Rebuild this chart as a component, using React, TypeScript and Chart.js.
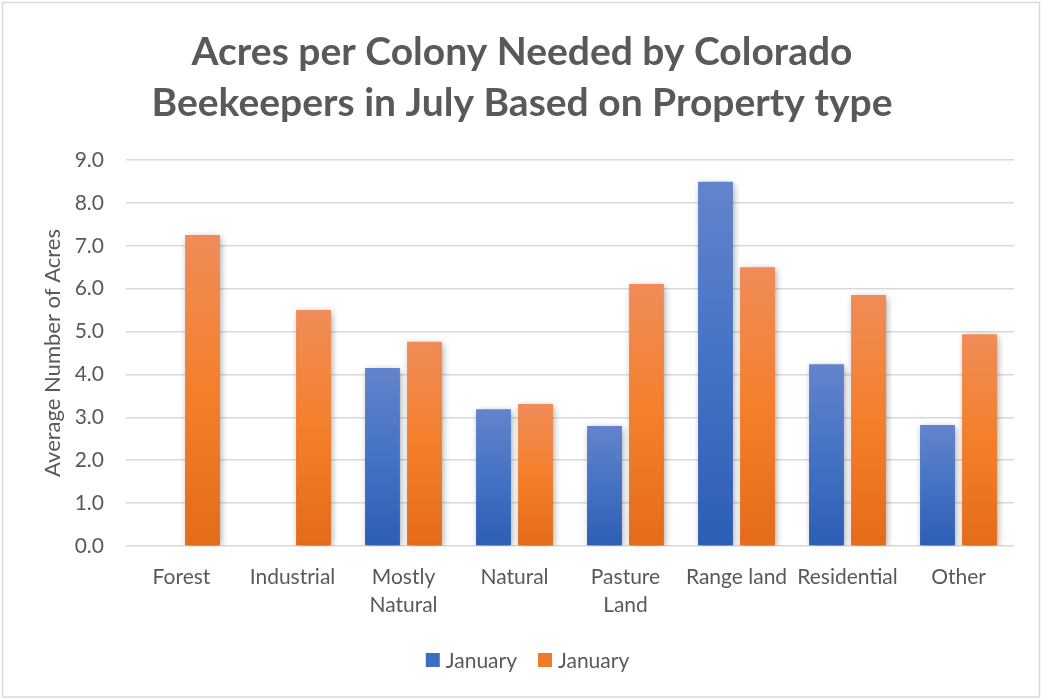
import React, { useEffect, useRef } from "react";
import { Chart, registerables } from "chart.js";

Chart.register(...registerables);

const categories: (string | string[])[] = [
  "Forest",
  "Industrial",
  ["Mostly", "Natural"],
  "Natural",
  ["Pasture", "Land"],
  "Range land",
  "Residential",
  "Other",
];
const seriesBlueLabel = "January";
const seriesOrangeLabel = "January";
const seriesBlue: (number | null)[] = [null, null, 4.15, 3.19, 2.8, 8.49, 4.24, 2.82];
const seriesOrange: number[] = [7.25, 5.5, 4.76, 3.31, 6.11, 6.5, 5.85, 4.94];
const titleLines = ["Acres per Colony Needed by Colorado", "Beekeepers in July Based on Property type"];
const yAxisTitle = "Average Number of Acres";

const FONT = "Lato, 'Open Sans', sans-serif";
const GRAY = "#595959";
const BLUE = "#3d6cc4";
const ORANGE = "#ef7a2c";

function gradientFill(base: string, stops: [string, string, string]) {
  return (ctx: any) => {
    if (ctx.type !== "data") return base;
    const chart = ctx.chart;
    const y = chart.scales?.y;
    if (!chart.chartArea || !y || ctx.raw == null) return base;
    const top = y.getPixelForValue(ctx.raw);
    const bottom = y.getPixelForValue(0);
    if (!isFinite(top) || !isFinite(bottom) || top === bottom) return base;
    const g = chart.ctx.createLinearGradient(0, top, 0, bottom);
    g.addColorStop(0, stops[0]);
    g.addColorStop(0.5, stops[1]);
    g.addColorStop(1, stops[2]);
    return g;
  };
}

const framePlugin = {
  id: "frame",
  beforeDraw(chart: any) {
    const c = chart.ctx;
    c.save();
    c.fillStyle = "#ffffff";
    c.fillRect(0, 0, chart.width, chart.height);
    c.strokeStyle = "#d9d9d9";
    c.lineWidth = 1.5;
    c.strokeRect(2.5, 2.5, chart.width - 5, chart.height - 3.5);
    c.restore();
  },
};

const shadowPlugin = {
  id: "barShadow",
  beforeDatasetsDraw(chart: any) {
    const c = chart.ctx;
    c.save();
    c.shadowColor = "rgba(0,0,0,0.4)";
    c.shadowBlur = 7;
    c.shadowOffsetX = 1.5;
    c.shadowOffsetY = 2;
  },
  afterDatasetsDraw(chart: any) {
    chart.ctx.restore();
  },
};

// Custom legend drawn from the datasets (Excel-like spacing)
const legendPlugin = {
  id: "excelLegend",
  afterDraw(chart: any) {
    const c = chart.ctx;
    const box = 14;
    const gapText = 6;
    const gapItem = 21;
    const cy = 660;
    c.save();
    c.font = `21px ${FONT}`;
    c.textBaseline = "middle";
    c.textAlign = "left";
    const items = chart.data.datasets.map((ds: any, i: number) => ({
      text: ds.label,
      color: i === 0 ? BLUE : ORANGE,
      w: c.measureText(ds.label).width,
    }));
    const total =
      items.reduce((a: number, it: any) => a + box + gapText + it.w, 0) + gapItem * (items.length - 1);
    let x = 527.5 - total / 2;
    items.forEach((it: any) => {
      c.fillStyle = it.color;
      c.fillRect(x, cy - box / 2, box, box);
      c.fillStyle = GRAY;
      c.fillText(it.text, x + box + gapText, cy + 1);
      x += box + gapText + it.w + gapItem;
    });
    c.restore();
  },
};

export default function App() {
  const ref = useRef<HTMLCanvasElement | null>(null);

  useEffect(() => {
    if (!ref.current) return;
    const chart = new Chart(ref.current, {
      type: "bar",
      data: {
        labels: categories as any,
        datasets: [
          {
            label: seriesBlueLabel,
            data: seriesBlue,
            backgroundColor: gradientFill(BLUE, ["#6384cc", "#4472c4", "#2e5db5"]) as any,
            borderWidth: 0,
            categoryPercentage: 0.757,
            barPercentage: 0.83,
          },
          {
            label: seriesOrangeLabel,
            data: seriesOrange,
            backgroundColor: gradientFill(ORANGE, ["#f08c58", "#f47f2b", "#e46b19"]) as any,
            borderWidth: 0,
            categoryPercentage: 0.757,
            barPercentage: 0.83,
          },
        ],
      },
      options: {
        animation: false,
        responsive: false,
        maintainAspectRatio: false,
        layout: { padding: { left: 30, right: 28, top: 0, bottom: 58.5 } },
        plugins: {
          title: {
            display: true,
            text: titleLines,
            color: GRAY,
            font: { family: FONT, size: 39, weight: "bold", lineHeight: 1.3 },
            padding: { top: 27, bottom: 31.6 },
          },
          legend: { display: false },
          tooltip: { enabled: false },
        },
        scales: {
          x: {
            grid: { display: false },
            border: { display: false },
            ticks: {
              color: GRAY,
              font: { family: FONT, size: 21, lineHeight: 1.33 },
              maxRotation: 0,
              minRotation: 0,
              autoSkip: false,
              padding: 9,
            },
            afterFit: (s: any) => {
              s.height = 93.5;
            },
          },
          y: {
            min: 0,
            max: 9,
            grid: { color: "#d9d9d9", lineWidth: 1.5, drawTicks: false },
            border: { display: false },
            ticks: {
              stepSize: 1,
              color: GRAY,
              font: { family: FONT, size: 21 },
              padding: 22,
              callback: (v: any) => Number(v).toFixed(1),
            },
            title: {
              display: true,
              text: yAxisTitle,
              color: GRAY,
              font: { family: FONT, size: 22 },
              padding: { top: 10, bottom: 0 },
            },
            afterFit: (s: any) => {
              s.width = 96;
            },
          },
        },
      },
      plugins: [framePlugin, shadowPlugin, legendPlugin],
    });
    return () => chart.destroy();
  }, []);

  return (
    <div style={{ position: "fixed", left: 0, top: 0, width: 1042, height: 698, background: "#fff" }}>
      <canvas ref={ref} width={1042} height={698} style={{ display: "block", width: 1042, height: 698 }} />
    </div>
  );
}
